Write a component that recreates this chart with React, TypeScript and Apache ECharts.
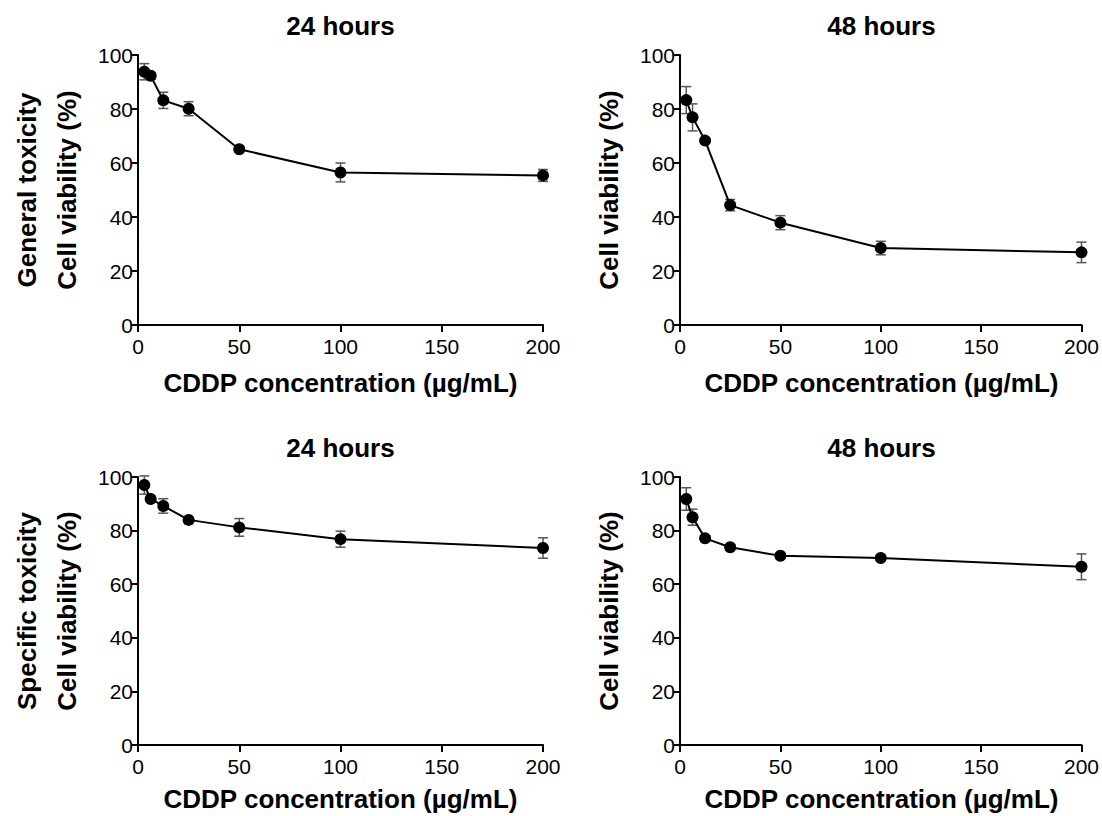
import React, { useEffect, useRef } from "react";
import * as echarts from "echarts";

const doses = [3.125, 6.25, 12.5, 25, 50, 100, 200];
const general24 = [93.8, 92.3, 83.2, 80.1, 65.1, 56.5, 55.4];
const general24Err = [3.0, 1.2, 3.0, 2.6, 1.0, 3.5, 2.2];
const general48 = [83.3, 76.9, 68.3, 44.4, 37.9, 28.5, 26.9];
const general48Err = [5.0, 5.0, 1.0, 2.1, 2.6, 2.5, 3.8];
const specific24 = [97.0, 91.8, 89.2, 84.0, 81.2, 76.8, 73.5];
const specific24Err = [3.4, 1.0, 2.7, 1.0, 3.3, 3.0, 3.8];
const specific48 = [91.8, 85.0, 77.1, 73.8, 70.6, 69.8, 66.5];
const specific48Err = [4.2, 3.0, 1.0, 1.0, 1.0, 1.0, 4.8];

const panelTitles = ["24 hours", "48 hours", "24 hours", "48 hours"];
const rowLabels = ["General toxicity", "Specific toxicity"];
const xName = "CDDP concentration (µg/mL)";
const yName = "Cell viability (%)";

const FONT = "'Liberation Sans', Arial, Helvetica, sans-serif";

export default function App() {
  const ref = useRef<HTMLDivElement>(null);
  useEffect(() => {
    if (!ref.current) return;
    const chart = echarts.init(ref.current, null, { renderer: "svg" });
    const grids = [
      { left: 138, top: 55, width: 405, height: 270 },
      { left: 680, top: 55, width: 403, height: 270 },
      { left: 138, top: 477, width: 405, height: 268 },
      { left: 680, top: 477, width: 403, height: 268 },
    ];
    const values = [general24, general48, specific24, specific48];
    const errs = [general24Err, general48Err, specific24Err, specific48Err];

    const xAxes = grids.map((_, i) => ({
      gridIndex: i,
      type: "value",
      min: 0,
      max: 200,
      interval: 50,
      axisLine: { show: true, onZero: false, lineStyle: { color: "#000", width: 2 } },
      axisTick: { show: true, length: 7, lineStyle: { color: "#000", width: 2 } },
      axisLabel: { color: "#000", fontSize: 21, margin: 11, fontFamily: FONT },
      splitLine: { show: false },
    }));
    const yAxes = grids.map((_, i) => ({
      gridIndex: i,
      type: "value",
      min: 0,
      max: 100,
      interval: 20,
      axisLine: { show: true, onZero: false, lineStyle: { color: "#000", width: 2 } },
      axisTick: { show: true, length: 7, lineStyle: { color: "#000", width: 2 } },
      axisLabel: { color: "#000", fontSize: 21, margin: 5, fontFamily: FONT },
      splitLine: { show: false },
    }));

    const series: any[] = [];
    values.forEach((vals, i) => {
      series.push({
        type: "custom",
        xAxisIndex: i,
        yAxisIndex: i,
        clip: false,
        z: 1,
        data: doses.map((d, k) => [d, vals[k] - errs[i][k], vals[k] + errs[i][k]]),
        encode: { x: 0, y: [1, 2] },
        renderItem: (params: any, api: any) => {
          const x = api.value(0);
          const top = api.coord([x, api.value(2)]);
          const bot = api.coord([x, api.value(1)]);
          const w = 5;
          const style = { stroke: "#555", lineWidth: 1.5 };
          return {
            type: "group",
            children: [
              { type: "line", shape: { x1: top[0], y1: top[1], x2: bot[0], y2: bot[1] }, style },
              { type: "line", shape: { x1: top[0] - w, y1: top[1], x2: top[0] + w, y2: top[1] }, style },
              { type: "line", shape: { x1: bot[0] - w, y1: bot[1], x2: bot[0] + w, y2: bot[1] }, style },
            ],
          };
        },
      });
      series.push({
        type: "line",
        xAxisIndex: i,
        yAxisIndex: i,
        clip: false,
        z: 2,
        data: doses.map((d, k) => [d, vals[k]]),
        symbol: "circle",
        symbolSize: 12,
        showSymbol: true,
        itemStyle: { color: "#000" },
        lineStyle: { color: "#000", width: 2 },
      });
    });

    const boldText = (text: string, x: number, y: number, rotate = false) => ({
      type: "text",
      x,
      y,
      rotation: rotate ? Math.PI / 2 : 0,
      style: {
        text,
        fill: "#000",
        font: `bold 26px ${FONT}`,
        textAlign: "center",
        textVerticalAlign: "middle",
      },
    });

    const graphics: any[] = [];
    grids.forEach((g, i) => {
      const cx = g.left + g.width / 2;
      const cy = g.top + g.height / 2;
      graphics.push(boldText(panelTitles[i], cx, g.top - 29));
      graphics.push(boldText(xName, cx, Math.min(g.top + g.height + 58, 799)));
      graphics.push(boldText(yName, g.left - 71, cy, true));
    });
    graphics.push(boldText(rowLabels[0], 27, 190, true));
    graphics.push(boldText(rowLabels[1], 27, 611, true));

    chart.setOption({
      animation: false,
      backgroundColor: "#fff",
      grid: grids,
      xAxis: xAxes,
      yAxis: yAxes,
      series,
      graphic: graphics,
    });
    return () => chart.dispose();
  }, []);
  return (
    <div
      ref={ref}
      style={{ position: "fixed", left: 0, top: 0, width: 1102, height: 816, background: "#fff" }}
    />
  );
}
